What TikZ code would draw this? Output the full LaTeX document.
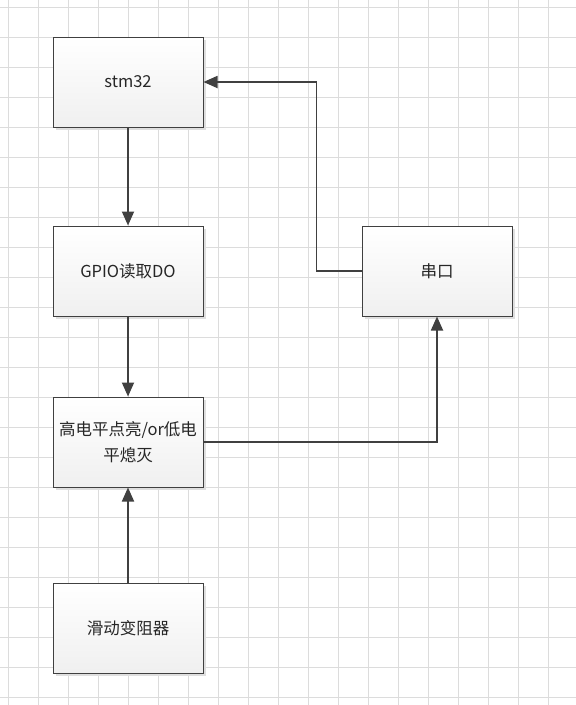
\documentclass[tikz,border=0pt]{standalone}
\usepackage{fontspec}
\setmainfont{Noto Sans CJK SC}
\usetikzlibrary{arrows.meta,shadows}
\definecolor{linegray}{HTML}{404040}
\definecolor{gridgray}{HTML}{DCDCDC}
\tikzset{
  gridline/.style={draw=gridgray, line width=1pt},
  blockbox/.style={draw=linegray, line width=1pt, top color=white, bottom color=gray!12,
    minimum width=150pt, minimum height=90pt, align=center, inner sep=2pt,
    font=\fontsize{16.5}{26.5}\selectfont, text=black!85,
    drop shadow={shadow xshift=3pt, shadow yshift=-3pt, fill=gray!25, opacity=1}},
  flow/.style={draw=linegray, line width=1.8pt, -{Triangle[length=14pt,width=12pt]}}
}
\begin{document}
\begin{tikzpicture}[x=1pt,y=-1pt]
\useasboundingbox (0,0) rectangle (576,705);
\fill[white] (0,0) rectangle (576,705);

% grid
\foreach \gx in {8,38,...,578} \draw[gridline] (\gx,0) -- (\gx,705);
\foreach \gy in {7,37,...,707} \draw[gridline] (0,\gy) -- (576,\gy);

% blocks
\node[blockbox] (stm) at (128,82) {stm32};
\node[blockbox] (gpio) at (128,271) {GPIO读取DO};
\node[blockbox] (level) at (128,442) {高电平点亮/or低电\\平熄灭};
\node[blockbox] (pot) at (128,628) {滑动变阻器};
\node[blockbox] (uart) at (437,271) {串口};

% connectors
\draw[flow] (stm) -- (gpio);
\draw[flow] (gpio) -- (level);
\draw[flow] (pot) -- (level);
\draw[flow] (level.east) -| (uart.south);
\draw[flow] (uart.west) -- ++(-45,0) |- (stm.east);

\end{tikzpicture}
\end{document}
